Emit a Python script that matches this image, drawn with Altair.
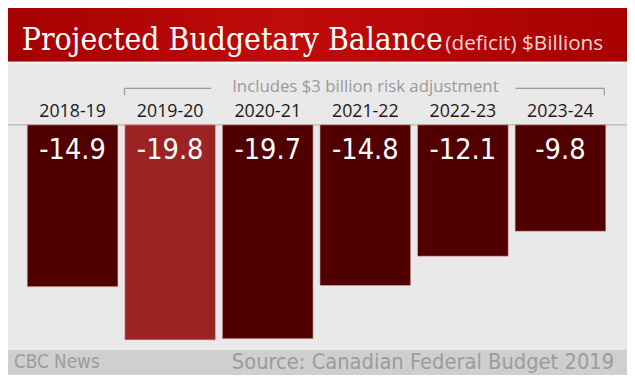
import altair as alt
import pandas as pd

years = ["2018-19", "2019-20", "2020-21", "2021-22", "2022-23", "2023-24"]
values = [-14.9, -19.8, -19.7, -14.8, -12.1, -9.8]
labels = ["-14.9", "-19.8", "-19.7", "-14.8", "-12.1", "-9.8"]
group = ["other", "current", "other", "other", "other", "other"]

title_main = "Projected Budgetary Balance"
title_sub = "(deficit) $Billions"
note = "Includes $3 billion risk adjustment"
credit = "CBC News"
source = "Source: Canadian Federal Budget 2019"

df = pd.DataFrame({"year": years, "value": values, "label": labels, "group": group})
one = pd.DataFrame({"a": [0]})

W, H = 627, 367
NARROW = "DejaVu Sans Condensed, sans-serif"

xs = alt.X("year:N", axis=None, sort=years,
           scale=alt.Scale(range=[16, 609], paddingInner=0.07, paddingOuter=0.035))
ys = alt.Scale(domain=[0, -20], range=[116, 336])

base = alt.Chart(df)

bars = base.mark_bar(stroke="#e9b9b9", strokeWidth=0.6).encode(
    x=xs,
    y=alt.Y("value:Q", axis=None, scale=ys),
    y2=alt.datum(0),
    color=alt.Color("group:N", legend=None,
                    scale=alt.Scale(domain=["other", "current"], range=["#510000", "#9d2224"])),
)

year_text = base.mark_text(fontSize=18, font="Open Sans", color="#1a1a1a",
                           baseline="middle").encode(
    x=xs, y=alt.value(103), text="year:N")

val_text = base.mark_text(fontSize=29, font=NARROW, color="white",
                          baseline="middle").encode(
    x=xs, y=alt.value(142), text="label:N")

dec = alt.Chart(one)

header = dec.mark_rect(
    fill=alt.Gradient(gradient="linear", x1=0, x2=1, y1=0, y2=0,
                      stops=[alt.GradientStop(color="#a30000", offset=0),
                             alt.GradientStop(color="#c10b0b", offset=0.45),
                             alt.GradientStop(color="#a50000", offset=1)])
).encode(x=alt.value(-10), x2=alt.value(W + 10), y=alt.value(-10), y2=alt.value(52))

header_line = dec.mark_rule(color="#f6f6f6", strokeWidth=2).encode(
    x=alt.value(0), x2=alt.value(W), y=alt.value(53))

footer = dec.mark_rect(fill="#cfcfcf").encode(
    x=alt.value(-10), x2=alt.value(W + 10), y=alt.value(344), y2=alt.value(H + 10))

baseline = dec.mark_rule(color="#b8b8b8", strokeWidth=1.2).encode(
    x=alt.value(0), x2=alt.value(W), y=alt.value(116))

t1 = dec.mark_text(text=title_main, font="DejaVu Serif Condensed", fontSize=32, color="white",
                   align="left", baseline="alphabetic").encode(x=alt.value(14), y=alt.value(40))
t2 = dec.mark_text(text=title_sub, font="Open Sans", fontSize=21, color="#f3d6d6",
                   align="left", baseline="alphabetic").encode(x=alt.value(443), y=alt.value(40))

bl1 = dec.mark_rule(color="#9a9a9a", strokeWidth=1.2).encode(
    x=alt.value(118), x2=alt.value(206), y=alt.value(79))
bl1t = dec.mark_rule(color="#9a9a9a", strokeWidth=1.2).encode(
    x=alt.value(118), y=alt.value(79), y2=alt.value(86))
bl2 = dec.mark_rule(color="#9a9a9a", strokeWidth=1.2).encode(
    x=alt.value(514), x2=alt.value(604), y=alt.value(79))
bl2t = dec.mark_rule(color="#9a9a9a", strokeWidth=1.2).encode(
    x=alt.value(604), y=alt.value(79), y2=alt.value(86))
note_text = dec.mark_text(text=note, font="Open Sans", fontSize=17, color="#9a9a9a",
                          baseline="middle").encode(x=alt.value(362), y=alt.value(78))

cr = dec.mark_text(text=credit, font=NARROW, fontSize=19, color="#9c9c9c",
                   align="left", baseline="middle").encode(x=alt.value(6), y=alt.value(356))
src = dec.mark_text(text=source, font=NARROW, fontSize=22, color="#9c9c9c",
                    align="right", baseline="middle").encode(x=alt.value(614), y=alt.value(356))

chart = alt.layer(
    header, header_line, footer, baseline, bars, year_text, val_text,
    t1, t2, bl1, bl1t, bl2, bl2t, note_text, cr, src
).properties(
    width=W, height=H, padding=0,
    autosize=alt.AutoSizeParams(type="none"),
    background="#e9e9e9",
).configure_view(stroke=None, fill="#e9e9e9")

chart.save("out.html", embed_options={"renderer": "svg", "actions": False})
